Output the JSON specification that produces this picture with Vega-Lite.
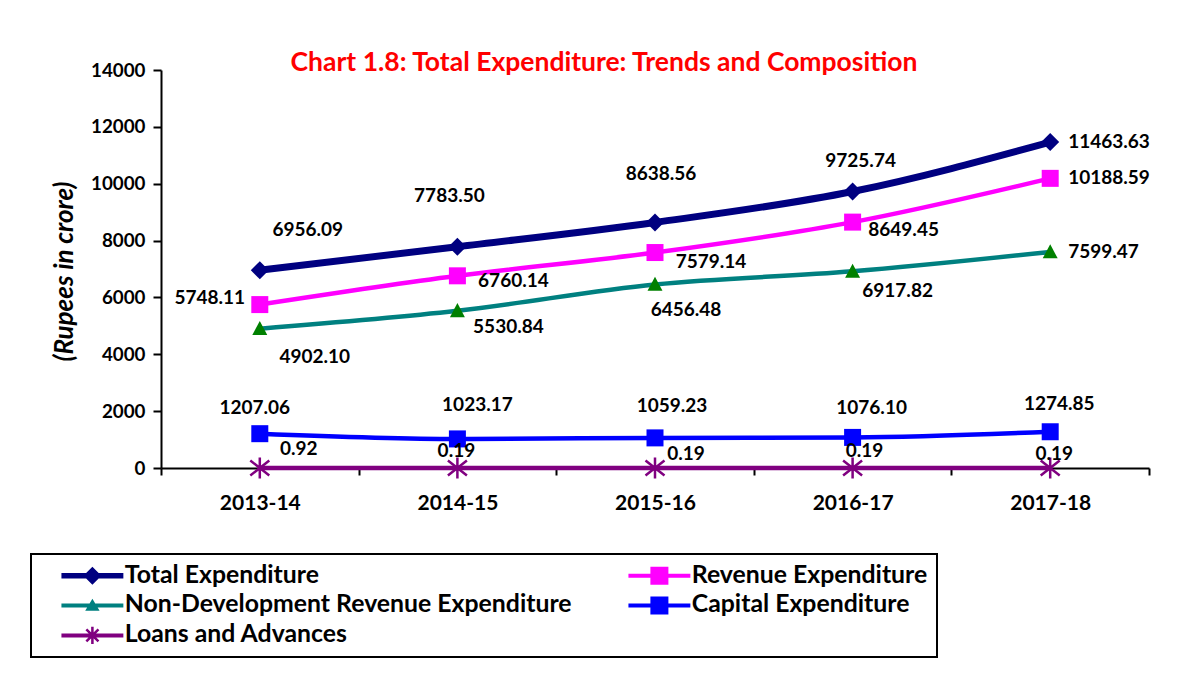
{
  "$schema": "https://vega.github.io/schema/vega-lite/v6.json",
  "width": 988,
  "height": 398,
  "autosize": {"type": "none"},
  "padding": {"left": 161, "top": 70, "right": 36, "bottom": 226},
  "background": "white",
  "title": {
    "text": "Chart 1.8: Total Expenditure: Trends and Composition",
    "color": "#FF0000",
    "font": "Lato",
    "fontSize": 26.5,
    "fontWeight": "bold",
    "anchor": "middle",
    "dx": -51,
    "offset": 0,
    "dy": 15
  },
  "data": {
    "values": [
      {"year": "2013-14", "series": "Total Expenditure", "value": 6956.09},
      {"year": "2014-15", "series": "Total Expenditure", "value": 7783.50},
      {"year": "2015-16", "series": "Total Expenditure", "value": 8638.56},
      {"year": "2016-17", "series": "Total Expenditure", "value": 9725.74},
      {"year": "2017-18", "series": "Total Expenditure", "value": 11463.63},
      {"year": "2013-14", "series": "Revenue Expenditure", "value": 5748.11},
      {"year": "2014-15", "series": "Revenue Expenditure", "value": 6760.14},
      {"year": "2015-16", "series": "Revenue Expenditure", "value": 7579.14},
      {"year": "2016-17", "series": "Revenue Expenditure", "value": 8649.45},
      {"year": "2017-18", "series": "Revenue Expenditure", "value": 10188.59},
      {"year": "2013-14", "series": "Non-Development Revenue Expenditure", "value": 4902.10},
      {"year": "2014-15", "series": "Non-Development Revenue Expenditure", "value": 5530.84},
      {"year": "2015-16", "series": "Non-Development Revenue Expenditure", "value": 6456.48},
      {"year": "2016-17", "series": "Non-Development Revenue Expenditure", "value": 6917.82},
      {"year": "2017-18", "series": "Non-Development Revenue Expenditure", "value": 7599.47},
      {"year": "2013-14", "series": "Capital Expenditure", "value": 1207.06},
      {"year": "2014-15", "series": "Capital Expenditure", "value": 1023.17},
      {"year": "2015-16", "series": "Capital Expenditure", "value": 1059.23},
      {"year": "2016-17", "series": "Capital Expenditure", "value": 1076.10},
      {"year": "2017-18", "series": "Capital Expenditure", "value": 1274.85},
      {"year": "2013-14", "series": "Loans and Advances", "value": 0.92},
      {"year": "2014-15", "series": "Loans and Advances", "value": 0.19},
      {"year": "2015-16", "series": "Loans and Advances", "value": 0.19},
      {"year": "2016-17", "series": "Loans and Advances", "value": 0.19},
      {"year": "2017-18", "series": "Loans and Advances", "value": 0.19}
    ]
  },
  "encoding": {
    "x": {
      "field": "year",
      "type": "nominal",
      "sort": null,
      "scale": {"type": "band", "paddingInner": 0, "paddingOuter": 0},
      "axis": {
        "title": null,
        "labelAngle": 0,
        "labelFont": "Lato",
        "labelFontWeight": "bold",
        "labelFontSize": 21,
        "labelColor": "black",
        "labelPadding": 17,
        "tickBand": "extent",
        "tickSize": 7,
        "tickWidth": 2,
        "tickColor": "black",
        "domainColor": "black",
        "domainWidth": 2,
        "grid": false
      }
    },
    "y": {
      "field": "value",
      "type": "quantitative",
      "scale": {"domain": [0, 14000], "nice": false},
      "axis": {
        "title": "(Rupees in crore)",
        "values": [0, 2000, 4000, 6000, 8000, 10000, 12000, 14000],
        "format": "d",
        "labelFont": "Lato",
        "labelFontWeight": "bold",
        "labelFontSize": 18.8,
        "labelColor": "black",
        "labelPadding": 8,
        "tickSize": 8,
        "tickWidth": 2,
        "tickColor": "black",
        "domainColor": "black",
        "domainWidth": 2,
        "grid": false,
        "titleFont": "Lato",
        "titleFontWeight": "bold",
        "titleFontStyle": "italic",
        "titleFontSize": 26,
        "titleColor": "black",
        "titleX": -84,
        "titleY": 201
      }
    }
  },
  "layer": [
    {
      "transform": [{"filter": "datum.series !== 'Total Expenditure'"}],
      "mark": {"type": "line", "strokeWidth": 4.5, "interpolate": "monotone", "strokeCap": "round", "strokeJoin": "round"},
      "encoding": {
        "stroke": {
          "field": "series",
          "type": "nominal",
          "scale": {
            "domain": ["Total Expenditure", "Revenue Expenditure", "Non-Development Revenue Expenditure", "Capital Expenditure", "Loans and Advances"],
            "range": ["#000080", "#FF00FF", "#008080", "#0000FF", "#800080"]
          },
          "legend": null
        }
      }
    },
    {
      "transform": [{"filter": "datum.series === 'Total Expenditure'"}],
      "mark": {"type": "line", "strokeWidth": 7, "interpolate": "monotone", "strokeCap": "round", "strokeJoin": "round", "stroke": "#000080"},
      "encoding": {}
    },
    {
      "transform": [{"filter": "datum.series !== 'Loans and Advances'"}],
      "mark": {"type": "point", "filled": true, "size": 289, "opacity": 1},
      "encoding": {
        "fill": {
          "field": "series",
          "type": "nominal",
          "scale": {
            "domain": ["Total Expenditure", "Revenue Expenditure", "Non-Development Revenue Expenditure", "Capital Expenditure"],
            "range": ["#000080", "#FF00FF", "#008000", "#0000FF"]
          },
          "legend": null
        },
        "shape": {
          "field": "series",
          "type": "nominal",
          "scale": {
            "domain": ["Total Expenditure", "Revenue Expenditure", "Non-Development Revenue Expenditure", "Capital Expenditure"],
            "range": ["M0,-1.06L1.06,0L0,1.06L-1.06,0Z", "square", "M0,-0.9L0.88,0.75L-0.88,0.75Z", "square"]
          },
          "legend": null
        }
      }
    },
    {
      "transform": [{"filter": "datum.series === 'Loans and Advances'"}],
      "mark": {"type": "point", "filled": false, "size": 400, "stroke": "#800080", "strokeWidth": 2.5, "opacity": 1, "shape": "M0,-1.05L0,1.05M-0.95,-0.75L0.95,0.75M-0.95,0.75L0.95,-0.75"}
    },
    {
      "mark": {"type": "point", "filled": true, "size": 324, "opacity": 0},
      "encoding": {
        "color": {
          "field": "series",
          "type": "nominal",
          "scale": {
            "domain": ["Total Expenditure", "Revenue Expenditure", "Non-Development Revenue Expenditure", "Capital Expenditure", "Loans and Advances"],
            "range": ["#000080", "#FF00FF", "#008080", "#0000FF", "#800080"]
          },
          "legend": {
            "title": null,
            "orient": "none",
            "legendX": -130,
            "legendY": 484,
            "direction": "horizontal",
            "columns": 2,
            "gridAlign": "each",
            "columnPadding": 35,
            "rowPadding": 4,
            "padding": 9,
            "strokeColor": "black",
            "fillColor": "white",
            "symbolOffset": 40,
            "labelOffset": 20,
            "symbolSize": 324,
            "symbolOpacity": 1,
            "symbolStrokeWidth": 0,
            "labelFont": "Lato",
            "labelFontWeight": "bold",
            "labelFontSize": 24.8,
            "labelColor": "black",
            "labelLimit": 0
          }
        },
        "shape": {
          "field": "series",
          "type": "nominal",
          "scale": {
            "domain": ["Total Expenditure", "Revenue Expenditure", "Non-Development Revenue Expenditure", "Capital Expenditure", "Loans and Advances"],
            "range": [
              "M-3.44,-0.31H3.44V0.31H-3.44ZM0,-1L1,0L0,1L-1,0Z",
              "M-3.44,-0.22H3.44V0.22H-3.44ZM-1,-1H1V1H-1Z",
              "M-3.44,-0.22H3.44V0.22H-3.44ZM0,-0.75L0.8,0.6L-0.8,0.6Z",
              "M-3.44,-0.22H3.44V0.22H-3.44ZM-1,-1H1V1H-1Z",
              "M-3.44,-0.22H3.44V0.22H-3.44ZM-0.14,-0.95H0.14V0.95H-0.14ZM0.771,0.573L0.573,0.771L-0.771,-0.573L-0.573,-0.771ZM0.573,-0.771L0.771,-0.573L-0.573,0.771L-0.771,0.573Z"
            ]
          },
          "legend": {
            "title": null,
            "orient": "none",
            "legendX": -130,
            "legendY": 484,
            "direction": "horizontal",
            "columns": 2,
            "gridAlign": "each",
            "columnPadding": 35,
            "rowPadding": 4,
            "padding": 9,
            "strokeColor": "black",
            "fillColor": "white",
            "symbolOffset": 40,
            "labelOffset": 20,
            "symbolSize": 324,
            "symbolOpacity": 1,
            "symbolStrokeWidth": 0,
            "labelFont": "Lato",
            "labelFontWeight": "bold",
            "labelFontSize": 24.8,
            "labelColor": "black",
            "labelLimit": 0
          }
        }
      }
    },
    {"transform": [{"filter": "datum.series === 'Total Expenditure' && datum.year === '2013-14'"}], "mark": {"type": "text", "dx": 48, "dy": -40}, "encoding": {"text": {"field": "value", "type": "quantitative", "format": ".2f"}}},
    {"transform": [{"filter": "datum.series === 'Total Expenditure' && datum.year === '2014-15'"}], "mark": {"type": "text", "dx": -8, "dy": -51}, "encoding": {"text": {"field": "value", "type": "quantitative", "format": ".2f"}}},
    {"transform": [{"filter": "datum.series === 'Total Expenditure' && datum.year === '2015-16'"}], "mark": {"type": "text", "dx": 6, "dy": -48}, "encoding": {"text": {"field": "value", "type": "quantitative", "format": ".2f"}}},
    {"transform": [{"filter": "datum.series === 'Total Expenditure' && datum.year === '2016-17'"}], "mark": {"type": "text", "dx": 8, "dy": -31}, "encoding": {"text": {"field": "value", "type": "quantitative", "format": ".2f"}}},
    {"transform": [{"filter": "datum.year === '2017-18' && (datum.series === 'Total Expenditure' || datum.series === 'Revenue Expenditure' || datum.series === 'Non-Development Revenue Expenditure')"}], "mark": {"type": "text", "align": "left", "dx": 18, "dy": 0}, "encoding": {"text": {"field": "value", "type": "quantitative", "format": ".2f"}}},
    {"transform": [{"filter": "datum.series === 'Revenue Expenditure' && datum.year === '2013-14'"}], "mark": {"type": "text", "dx": -50, "dy": -7}, "encoding": {"text": {"field": "value", "type": "quantitative", "format": ".2f"}}},
    {"transform": [{"filter": "datum.series === 'Revenue Expenditure' && datum.year === '2014-15'"}], "mark": {"type": "text", "dx": 56, "dy": 5}, "encoding": {"text": {"field": "value", "type": "quantitative", "format": ".2f"}}},
    {"transform": [{"filter": "datum.series === 'Revenue Expenditure' && datum.year === '2015-16'"}], "mark": {"type": "text", "dx": 56, "dy": 9}, "encoding": {"text": {"field": "value", "type": "quantitative", "format": ".2f"}}},
    {"transform": [{"filter": "datum.series === 'Revenue Expenditure' && datum.year === '2016-17'"}], "mark": {"type": "text", "dx": 51, "dy": 8}, "encoding": {"text": {"field": "value", "type": "quantitative", "format": ".2f"}}},
    {"transform": [{"filter": "datum.series === 'Non-Development Revenue Expenditure' && datum.year === '2013-14'"}], "mark": {"type": "text", "dx": 55, "dy": 28}, "encoding": {"text": {"field": "value", "type": "quantitative", "format": ".2f"}}},
    {"transform": [{"filter": "datum.series === 'Non-Development Revenue Expenditure' && datum.year === '2014-15'"}], "mark": {"type": "text", "dx": 51, "dy": 16}, "encoding": {"text": {"field": "value", "type": "quantitative", "format": ".2f"}}},
    {"transform": [{"filter": "datum.series === 'Non-Development Revenue Expenditure' && datum.year === '2015-16'"}], "mark": {"type": "text", "dx": 31, "dy": 26}, "encoding": {"text": {"field": "value", "type": "quantitative", "format": ".2f"}}},
    {"transform": [{"filter": "datum.series === 'Non-Development Revenue Expenditure' && datum.year === '2016-17'"}], "mark": {"type": "text", "dx": 45, "dy": 20}, "encoding": {"text": {"field": "value", "type": "quantitative", "format": ".2f"}}},
    {"transform": [{"filter": "datum.series === 'Capital Expenditure' && datum.year === '2013-14'"}], "mark": {"type": "text", "dx": -5, "dy": -26}, "encoding": {"text": {"field": "value", "type": "quantitative", "format": ".2f"}}},
    {"transform": [{"filter": "datum.series === 'Capital Expenditure' && datum.year === '2014-15'"}], "mark": {"type": "text", "dx": 20, "dy": -34}, "encoding": {"text": {"field": "value", "type": "quantitative", "format": ".2f"}}},
    {"transform": [{"filter": "datum.series === 'Capital Expenditure' && datum.year === '2015-16'"}], "mark": {"type": "text", "dx": 17, "dy": -32}, "encoding": {"text": {"field": "value", "type": "quantitative", "format": ".2f"}}},
    {"transform": [{"filter": "datum.series === 'Capital Expenditure' && datum.year === '2016-17'"}], "mark": {"type": "text", "dx": 19, "dy": -29}, "encoding": {"text": {"field": "value", "type": "quantitative", "format": ".2f"}}},
    {"transform": [{"filter": "datum.series === 'Capital Expenditure' && datum.year === '2017-18'"}], "mark": {"type": "text", "dx": 9, "dy": -28}, "encoding": {"text": {"field": "value", "type": "quantitative", "format": ".2f"}}},
    {"transform": [{"filter": "datum.series === 'Loans and Advances' && datum.year === '2013-14'"}], "mark": {"type": "text", "dx": 39, "dy": -19}, "encoding": {"text": {"field": "value", "type": "quantitative", "format": ".2f"}}},
    {"transform": [{"filter": "datum.series === 'Loans and Advances' && datum.year === '2014-15'"}], "mark": {"type": "text", "dx": -1, "dy": -17}, "encoding": {"text": {"field": "value", "type": "quantitative", "format": ".2f"}}},
    {"transform": [{"filter": "datum.series === 'Loans and Advances' && datum.year === '2015-16'"}], "mark": {"type": "text", "dx": 31, "dy": -14}, "encoding": {"text": {"field": "value", "type": "quantitative", "format": ".2f"}}},
    {"transform": [{"filter": "datum.series === 'Loans and Advances' && datum.year === '2016-17'"}], "mark": {"type": "text", "dx": 12, "dy": -17}, "encoding": {"text": {"field": "value", "type": "quantitative", "format": ".2f"}}},
    {"transform": [{"filter": "datum.series === 'Loans and Advances' && datum.year === '2017-18'"}], "mark": {"type": "text", "dx": 4, "dy": -14}, "encoding": {"text": {"field": "value", "type": "quantitative", "format": ".2f"}}}
  ],
  "resolve": {"scale": {"shape": "independent", "color": "independent", "fill": "independent", "stroke": "independent"}},
  "config": {
    "view": {"stroke": null},
    "legend": {"strokeWidth": 2},
    "text": {"font": "Lato", "fontWeight": "bold", "fontSize": 19, "color": "black"}
  }
}
